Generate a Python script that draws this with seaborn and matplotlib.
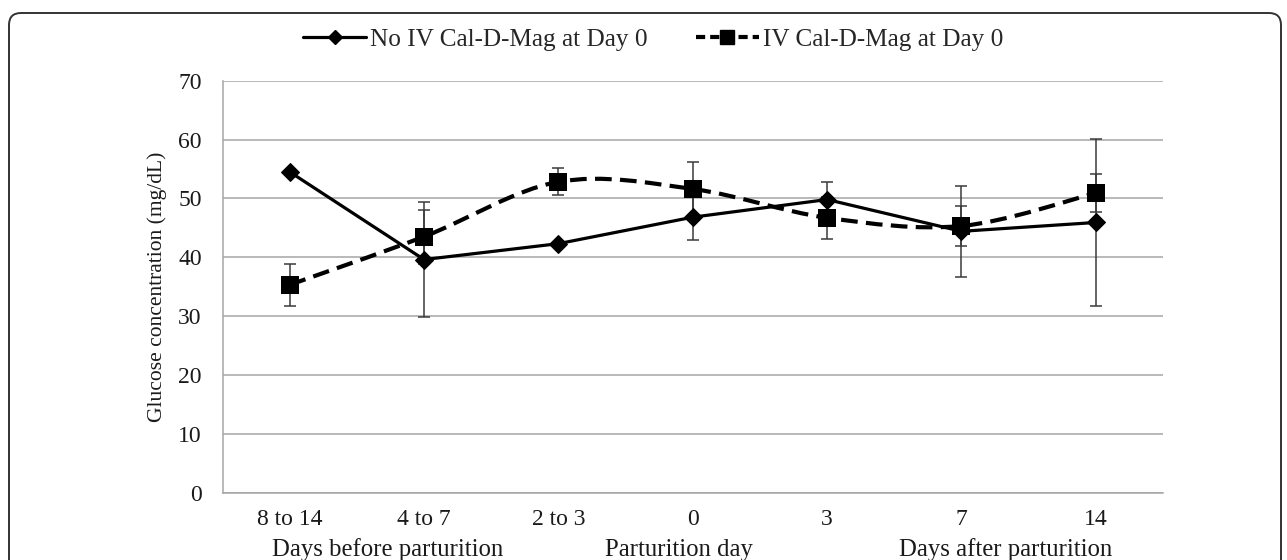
import numpy as np
import pandas as pd
import matplotlib
matplotlib.use("Agg")
import matplotlib.pyplot as plt
import seaborn as sns
from matplotlib.path import Path
from matplotlib.patches import PathPatch, FancyBboxPatch
from matplotlib.lines import Line2D
from matplotlib.transforms import IdentityTransform

# values (mg/dL)
categories = ["8 to 14", "4 to 7", "2 to 3", "0", "3", "7", "14"]
group_labels = ["Days before parturition", "Parturition day", "Days after parturition"]
series_names = ["No IV Cal-D-Mag at Day 0", "IV Cal-D-Mag at Day 0"]
no_iv_mean = [54.5, 39.6, 42.3, 46.8, 49.8, 44.4, 45.9]
no_iv_err = [0.0, 9.7, 0.0, 3.9, 3.0, 7.7, 14.2]
iv_mean = [35.3, 43.5, 52.8, 51.6, 46.7, 45.3, 50.9]
iv_err = [3.6, 4.6, 2.3, 4.5, 3.6, 3.4, 3.2]

GRID = "#a6a6a6"
ERR = "#3a3a3a"


def smooth_path(xs, ys):
    """Excel-like smoothed line as cubic bezier segments"""
    pts = np.column_stack([xs, ys]).astype(float)
    n = len(pts)
    verts = [pts[0]]
    codes = [Path.MOVETO]
    for i in range(n - 1):
        p0 = pts[i - 1] if i > 0 else pts[i]
        p1 = pts[i]
        p2 = pts[i + 1]
        p3 = pts[i + 2] if i + 2 < n else pts[i + 1]
        verts += [p1 + (p2 - p0) / 6, p2 - (p3 - p1) / 6, p2]
        codes += [Path.CURVE4] * 3
    return Path(verts, codes)


sns.set_style("white")
plt.rcParams["font.family"] = ["Liberation Serif", "DejaVu Serif"]

x = np.arange(len(categories))
df = pd.DataFrame({"x": x, "no_iv": no_iv_mean, "iv": iv_mean})

fig = plt.figure(figsize=(12.87, 5.6), dpi=100)
ax = fig.add_axes([0.1729, 0.1205, 0.7307, 0.7354])

# error bars first, underneath markers
ax.errorbar(x, no_iv_mean, yerr=no_iv_err, fmt="none", ecolor=ERR,
            elinewidth=1.1, capsize=4, capthick=1.1, zorder=2)
ax.errorbar(x, iv_mean, yerr=iv_err, fmt="none", ecolor=ERR,
            elinewidth=1.1, capsize=4, capthick=1.1, zorder=2)

sns.lineplot(data=df, x="x", y="no_iv", ax=ax, color="black", linewidth=2.3,
             marker="D", markersize=9, markeredgecolor="black", zorder=3)

curve = PathPatch(smooth_path(x, iv_mean), fill=False, edgecolor="black",
                  linewidth=3, linestyle=(0, (4, 2)), transform=ax.transData,
                  zorder=4)
ax.add_patch(curve)
sns.scatterplot(data=df, x="x", y="iv", ax=ax, color="black", marker="s",
                s=160, edgecolor="black", linewidth=0, zorder=5)

ax.set_xlim(-0.5, len(categories) - 0.5)
ax.set_ylim(0, 70)
ax.set_yticks(range(0, 80, 10))
ax.set_xticks(x)
ax.set_xticklabels(categories)
ax.set_xticks(np.arange(-0.5, len(categories), 1), minor=True)
ax.set_xlabel("")
ax.set_ylabel("")

ax.yaxis.grid(True, color=GRID, linewidth=1.1)
ax.xaxis.grid(False)
for side in ["top", "right"]:
    ax.spines[side].set_visible(False)
for side in ["left", "bottom"]:
    ax.spines[side].set_color(GRID)
    ax.spines[side].set_linewidth(1.1)

ax.tick_params(axis="x", which="major", length=0, pad=12, labelsize=17,
               labelcolor="#1a1a1a")
ax.tick_params(axis="x", which="minor", length=5, width=1.1, color=GRID,
               direction="out")
ax.tick_params(axis="y", length=5, width=1.1, color=GRID, pad=10,
               labelsize=17, labelcolor="#1a1a1a", direction="out")

fig.text(157 / 1287, 0.488, "Glucose concentration (mg/dL)", rotation=90,
         ha="center", va="center", fontsize=15.5, color="#1a1a1a")

for gx, lab in zip([387.5, 679, 1006], group_labels):
    fig.text(gx / 1287, 0.018, lab, ha="center", va="center", fontsize=17.8,
             color="#1a1a1a")

handles = [
    Line2D([], [], color="black", linewidth=2.3, marker="D", markersize=7.5),
    Line2D([], [], color="black", linewidth=3, linestyle=(0, (2.2, 1.2)),
           marker="s", markersize=10.5),
]
fig.legend(handles, series_names, loc="center", bbox_to_anchor=(0.5074, 0.9286),
           ncol=2, frameon=False, fontsize=18.2, handlelength=2.5,
           handletextpad=0.15, columnspacing=1.9)

# rounded frame around the panel (bottom runs past the image edge)
frame = FancyBboxPatch((9, -30), 1272, 547 + 30,
                       boxstyle="round,pad=0,rounding_size=12",
                       transform=IdentityTransform(), fill=False,
                       edgecolor="#333333", linewidth=1.4)
fig.patches.append(frame)

fig.savefig("out.png", dpi=100)
